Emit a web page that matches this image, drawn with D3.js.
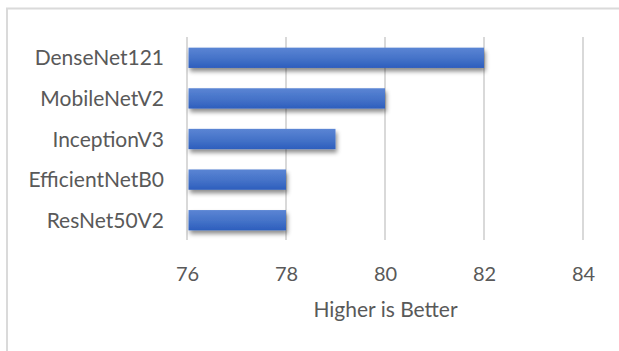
<!DOCTYPE html>
<html><head><meta charset="utf-8">
<script src="https://cdn.jsdelivr.net/npm/d3@7"></script>
<style>html,body{margin:0;padding:0;background:#fff;}svg{display:block;}</style>
</head><body>
<svg id="chart" width="619" height="351"></svg>
<script>
const categories = ["DenseNet121", "MobileNetV2", "InceptionV3", "EfficientNetB0", "ResNet50V2"];
const values = [82, 80, 79, 78, 78];
const tickValues = [76, 78, 80, 82, 84];
const axisTitle = "Higher is Better";

const svg = d3.select("#chart");
const W = 619, H = 351;
const font = "Lato, 'Open Sans', sans-serif";
const textColor = "#595959";

// chart border (top + left visible)
svg.append("rect").attr("x", 7).attr("y", 8.5).attr("width", 640).attr("height", 400)
  .attr("fill", "none").attr("stroke", "#dadada").attr("stroke-width", 2);

const defs = svg.append("defs");
const grad = defs.append("linearGradient").attr("id", "barGrad")
  .attr("x1", 0).attr("y1", 0).attr("x2", 0).attr("y2", 1);
grad.append("stop").attr("offset", "0%").attr("stop-color", "#5b85d4");
grad.append("stop").attr("offset", "55%").attr("stop-color", "#4472c8");
grad.append("stop").attr("offset", "100%").attr("stop-color", "#2d5ebd");

const shadow = defs.append("filter").attr("id", "shadow")
  .attr("x", "-5%").attr("y", "-30%").attr("width", "115%").attr("height", "190%");
shadow.append("feDropShadow").attr("dx", 1.5).attr("dy", 3.5).attr("stdDeviation", 2)
  .attr("flood-color", "#000").attr("flood-opacity", 0.45);

const x = d3.scaleLinear().domain([76, 84]).range([187, 583]);
const y = d3.scaleBand().domain(categories).range([37.5, 240.5]).paddingInner(0.5).paddingOuter(0.25);

// gridlines
svg.append("g").selectAll("line").data(tickValues).join("line")
  .attr("x1", d => x(d)).attr("x2", d => x(d))
  .attr("y1", 37).attr("y2", 240)
  .attr("stroke", "#d9d9d9").attr("stroke-width", 2);

// bars
svg.append("g").selectAll("rect").data(categories).join("rect")
  .attr("x", x(76) + 1.5)
  .attr("y", d => y(d))
  .attr("width", (d, i) => x(values[i]) - x(76) - 1.5)
  .attr("height", y.bandwidth())
  .attr("fill", "url(#barGrad)")
  .attr("filter", "url(#shadow)");

// category labels
svg.append("g").selectAll("text").data(categories).join("text")
  .attr("x", 164)
  .attr("y", d => y(d) + y.bandwidth() / 2 + 7.5)
  .attr("text-anchor", "end")
  .attr("font-family", font).attr("font-size", 21)
  .attr("fill", textColor)
  .text(d => d);

// x axis tick labels
const xAxis = d3.axisBottom(x).tickValues(tickValues).tickSize(0).tickPadding(0);
const gx = svg.append("g").attr("transform", "translate(0,262)").call(xAxis);
gx.select(".domain").remove();
gx.selectAll("text").attr("font-family", font).attr("font-size", 20)
  .attr("fill", textColor).attr("dy", "0.95em");

// axis title
svg.append("text").attr("x", 385.5).attr("y", 316.5)
  .attr("text-anchor", "middle")
  .attr("font-family", font).attr("font-size", 21)
  .attr("fill", textColor)
  .text(axisTitle);
</script>
</body></html>
